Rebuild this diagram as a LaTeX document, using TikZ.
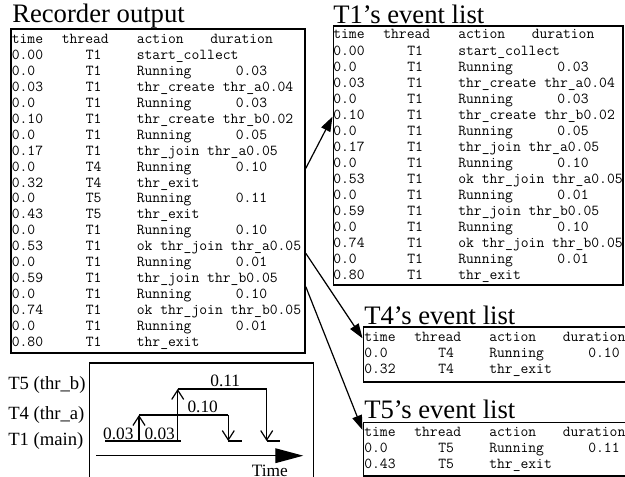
\documentclass[tikz,border=0pt]{standalone}
\usepackage{fontspec}
\setmainfont{Liberation Serif}
\usetikzlibrary{arrows.meta,fit}

% rows of one event list: prefix, first baseline, row pitch, rows
\newcommand{\eventrows}[4]{%
	\begin{scope}[shift={#2}]
		\node[cell] (#1-h1) at (0,0) {time};
		\node[cell] (#1-h2) at (50,0) {thread};
		\node[cell] (#1-h3) at (125,0) {action};
		\node[cell] (#1-h4) at (198.5,0) {duration};
		\foreach \tm/\who/\act/\dur [count=\i] in {#4} {
			\node[cell] (#1-tm\i) at (0,#3*\i) {\tm};
			\node[cell] (#1-who\i) at (74,#3*\i) {\who};
			\node[cell] (#1-act\i) at (125,#3*\i) {\act};
			\node[cell] (#1-dur\i) at (224,#3*\i) {\dur};
		}
	\end{scope}}

\begin{document}
\begin{tikzpicture}[x=0.75pt, y=-0.75pt,
		listbox/.style={draw, line width=1.2pt, inner sep=0pt},
		cell/.style={anchor=base west, inner sep=0pt, font=\ttfamily\fontsize{11.4}{13}\selectfont},
		listtitle/.style={anchor=base west, inner sep=0pt, font=\fontsize{20}{24}\selectfont},
		lane/.style={anchor=base west, inner sep=0pt, font=\fontsize{14}{16}\selectfont},
		num/.style={anchor=base, inner sep=0pt, font=\fontsize{13}{15}\selectfont},
		feed/.style={-{Triangle[length=11pt,width=7.5pt]}, line width=0.9pt},
		run/.style={line width=2.2pt},
		hop/.style={-{Straight Barb[length=7pt,width=9pt]}, line width=0.9pt},
		axis/.style={-{Triangle[length=21pt,width=11pt]}, line width=1pt}]
	\useasboundingbox (0,0) rectangle (625,477);
	\begin{scope}
		\clip (0,0) rectangle (625,477);

		% the boxes
		\node[listbox, fit={(11,29.3) (305,353)}] (rec) {};
		\node[listbox, fit={(333.3,26) (623,285)}] (tone) {};
		\node[listbox, fit={(363.3,327.3) (640,382.3)}] (tfour) {};
		\node[listbox, fit={(363.3,422.3) (640,476)}] (tfive) {};
		\node[listbox, fit={(89.3,363.3) (313.3,495)}] (chart) {};

		\node[listtitle] (rec-title) at (12,22.3) {Recorder output};
		\node[listtitle] (tone-title) at (333,24) {T1's event list};
		\node[listtitle] (tfour-title) at (364,325) {T4's event list};
		\node[listtitle] (tfive-title) at (364,418) {T5's event list};

		\eventrows{rec}{(11.5,43.3)}{15.97}{
			0.00/T1/start\_collect/,
			0.0/T1/Running/0.03,
			0.03/T1/thr\_create thr\_a0.04/,
			0.0/T1/Running/0.03,
			0.10/T1/thr\_create thr\_b0.02/,
			0.0/T1/Running/0.05,
			0.17/T1/thr\_join thr\_a0.05/,
			0.0/T4/Running/0.10,
			0.32/T4/thr\_exit/,
			0.0/T5/Running/0.11,
			0.43/T5/thr\_exit/,
			0.0/T1/Running/0.10,
			0.53/T1/ok thr\_join thr\_a0.05/,
			0.0/T1/Running/0.01,
			0.59/T1/thr\_join thr\_b0.05/,
			0.0/T1/Running/0.10,
			0.74/T1/ok thr\_join thr\_b0.05/,
			0.0/T1/Running/0.01,
			0.80/T1/thr\_exit/}

		\eventrows{tone}{(333,39)}{16.05}{
			0.00/T1/start\_collect/,
			0.0/T1/Running/0.03,
			0.03/T1/thr\_create thr\_a0.04/,
			0.0/T1/Running/0.03,
			0.10/T1/thr\_create thr\_b0.02/,
			0.0/T1/Running/0.05,
			0.17/T1/thr\_join thr\_a0.05/,
			0.0/T1/Running/0.10,
			0.53/T1/ok thr\_join thr\_a0.05/,
			0.0/T1/Running/0.01,
			0.59/T1/thr\_join thr\_b0.05/,
			0.0/T1/Running/0.10,
			0.74/T1/ok thr\_join thr\_b0.05/,
			0.0/T1/Running/0.01,
			0.80/T1/thr\_exit/}

		\eventrows{tfour}{(364,341.7)}{15.7}{
			0.0/T4/Running/0.10,
			0.32/T4/thr\_exit/}

		\eventrows{tfive}{(364,436.7)}{15.7}{
			0.0/T5/Running/0.11,
			0.43/T5/thr\_exit/}

		% split per thread
		\draw[feed] (rec.east |- 0,168.3) -- (tone.west |- 0,116.7);
		\draw[feed] (rec.east |- 0,253.3) -- (tfour.west |- 0,338.3);
		\draw[feed] (rec.east |- 0,286.7) -- (tfive.west |- 0,430);

		% thread timeline
		\node[lane] (lane-b) at (8,389.3) {T5 (thr\_b)};
		\node[lane] (lane-a) at (8,419.3) {T4 (thr\_a)};
		\node[lane] (lane-m) at (8,445.7) {T1 (main)};

		\draw[run] (105,441) -- (180.7,441);
		\draw[hop] (139,441) -- (139,415);
		\draw[run] (139,415) -- (228.3,415);
		\draw[hop] (228.3,415) -- (228.3,441);
		\draw[run] (228.3,441) -- (241.7,441);
		\draw[hop] (177.7,441) -- (177.7,389);
		\draw[run] (177.7,389) -- (266.7,389);
		\draw[hop] (266.7,389) -- (266.7,441);
		\draw[run] (266.7,441) -- (280,441);

		\node[num] (run-m1) at (118.3,439) {0.03};
		\node[num] (run-m2) at (159.7,439) {0.03};
		\node[num] (run-a) at (202.7,412.7) {0.10};
		\node[num] (run-b) at (225.3,386.7) {0.11};

		\draw[axis] (96,455.7) -- (303.3,455.7);
		\node[num] (axis-label) at (269.8,476.5) {Time};
	\end{scope}
\end{tikzpicture}
\end{document}
